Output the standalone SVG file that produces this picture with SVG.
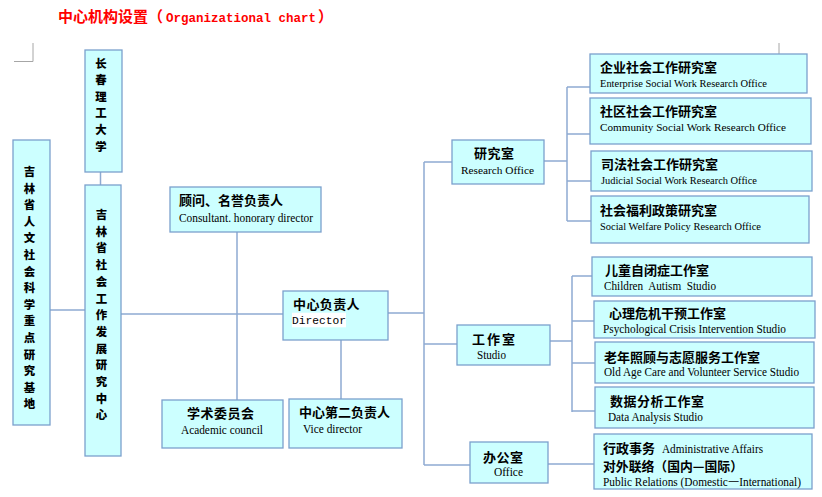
<svg xmlns="http://www.w3.org/2000/svg" width="822" height="497" viewBox="0 0 822 497">
<style>
.box{fill:#CCFFFF;stroke:#7BA0CD;stroke-width:1.3}
.ln{stroke:#8EAAD2;stroke-width:1.5;fill:none}
.mk{stroke:#A6A6A6;stroke-width:1;fill:none}
.zh{font-family:"Noto Sans CJK SC","Noto Sans",sans-serif;font-weight:bold;font-size:13px;fill:#000}
.en{font-family:"Liberation Serif","Times New Roman",serif;font-size:11px;fill:#000}
.en2{font-family:"Liberation Serif","Times New Roman",serif;font-size:12px;fill:#000}
.vt{font-family:"Noto Sans CJK SC","Noto Sans",sans-serif;font-weight:900;font-size:11.4px;fill:#000;text-anchor:middle}
.mono{font-family:"Liberation Mono","Courier New",monospace;font-size:11.2px;fill:#000}
.title{font-family:"Noto Sans CJK SC","Noto Sans",sans-serif;font-weight:bold;font-size:15px;fill:#FF0000}
.tmono{font-family:"Liberation Mono","Courier New",monospace;font-weight:bold;font-size:12.5px;fill:#FF0000}
</style>
<rect width="822" height="497" fill="#FFFFFF"/>
<text class="title" x="58" y="22">中心机构设置（</text>
<text class="tmono" x="166" y="22">Organizational chart</text>
<text class="title" x="318" y="22">）</text>
<polyline class="mk" points="14,61.5 33,61.5 33,43"/>
<line class="mk" x1="779" y1="43" x2="779" y2="54"/>

<g id="connectors">
<line class="ln" x1="100.5" y1="172" x2="100.5" y2="185"/>
<line class="ln" x1="50" y1="310" x2="85" y2="310"/>
<line class="ln" x1="121" y1="314" x2="283" y2="314"/>
<line class="ln" x1="237" y1="232" x2="237" y2="400"/>
<line class="ln" x1="341" y1="340" x2="341" y2="399"/>
<line class="ln" x1="388" y1="313" x2="424" y2="313"/>
<line class="ln" x1="424" y1="162" x2="424" y2="465"/>
<line class="ln" x1="424" y1="162" x2="452" y2="162"/>
<line class="ln" x1="424" y1="344" x2="457" y2="344"/>
<line class="ln" x1="424" y1="465" x2="470" y2="465"/>
<line class="ln" x1="544" y1="161" x2="567" y2="161"/>
<line class="ln" x1="567" y1="87" x2="567" y2="221"/>
<line class="ln" x1="567" y1="87" x2="590" y2="87"/>
<line class="ln" x1="567" y1="134" x2="590" y2="134"/>
<line class="ln" x1="567" y1="181" x2="591" y2="181"/>
<line class="ln" x1="567" y1="221" x2="591" y2="221"/>
<line class="ln" x1="550" y1="341" x2="572" y2="341"/>
<line class="ln" x1="572" y1="276" x2="572" y2="412"/>
<line class="ln" x1="572" y1="276" x2="592" y2="276"/>
<line class="ln" x1="572" y1="321" x2="594" y2="321"/>
<line class="ln" x1="572" y1="363" x2="595" y2="363"/>
<line class="ln" x1="572" y1="411" x2="595" y2="411"/>
<line class="ln" x1="548" y1="464" x2="594" y2="464"/>
</g>

<g id="n-jilin-base">
<rect class="box" x="13" y="140" width="37" height="285"/>
<text class="vt" x="29.5" y="176">吉</text>
<text class="vt" x="29.5" y="192.6">林</text>
<text class="vt" x="29.5" y="209.2">省</text>
<text class="vt" x="29.5" y="225.8">人</text>
<text class="vt" x="29.5" y="242.4">文</text>
<text class="vt" x="29.5" y="259">社</text>
<text class="vt" x="29.5" y="275.6">会</text>
<text class="vt" x="29.5" y="292.2">科</text>
<text class="vt" x="29.5" y="308.8">学</text>
<text class="vt" x="29.5" y="325.4">重</text>
<text class="vt" x="29.5" y="342">点</text>
<text class="vt" x="29.5" y="358.6">研</text>
<text class="vt" x="29.5" y="375.2">究</text>
<text class="vt" x="29.5" y="391.8">基</text>
<text class="vt" x="29.5" y="408.4">地</text>
</g>

<g id="n-cust">
<rect class="box" x="85" y="50" width="37" height="122"/>
<text class="vt" x="101" y="67.5">长</text>
<text class="vt" x="101" y="84.1">春</text>
<text class="vt" x="101" y="100.7">理</text>
<text class="vt" x="101" y="117.3">工</text>
<text class="vt" x="101" y="133.9">大</text>
<text class="vt" x="101" y="150.5">学</text>
</g>

<g id="n-center">
<rect class="box" x="85" y="185" width="36" height="271"/>
<text class="vt" x="101.5" y="219">吉</text>
<text class="vt" x="101.5" y="235.7">林</text>
<text class="vt" x="101.5" y="252.4">省</text>
<text class="vt" x="101.5" y="269.1">社</text>
<text class="vt" x="101.5" y="285.8">会</text>
<text class="vt" x="101.5" y="302.5">工</text>
<text class="vt" x="101.5" y="319.2">作</text>
<text class="vt" x="101.5" y="335.9">发</text>
<text class="vt" x="101.5" y="352.6">展</text>
<text class="vt" x="101.5" y="369.3">研</text>
<text class="vt" x="101.5" y="386">究</text>
<text class="vt" x="101.5" y="402.7">中</text>
<text class="vt" x="101.5" y="419.4">心</text>
</g>

<g id="n-consultant">
<rect class="box" x="170" y="187" width="151" height="45"/>
<text class="zh" x="179" y="205">顾问、名誉负责人</text>
<text class="en2" x="179" y="221.5" textLength="134" lengthAdjust="spacingAndGlyphs">Consultant. honorary director</text>
</g>

<g id="n-academic">
<rect class="box" x="162" y="400" width="121" height="48"/>
<text class="zh" x="187" y="417.5" letter-spacing="0.5">学术委员会</text>
<text class="en2" x="181" y="434" textLength="82" lengthAdjust="spacingAndGlyphs">Academic council</text>
</g>

<g id="n-director">
<rect class="box" x="283" y="291" width="105" height="49"/>
<text class="zh" x="293" y="309" letter-spacing="0.4">中心负责人</text>
<rect x="292" y="312.7" width="54" height="14.6" fill="#FFFFFF"/>
<text class="mono" x="292" y="324" textLength="54" lengthAdjust="spacingAndGlyphs">Director</text>
</g>

<g id="n-vice">
<rect class="box" x="289" y="399" width="113" height="49"/>
<text class="zh" x="299" y="416.5">中心第二负责人</text>
<text class="en2" x="303" y="432.5" textLength="59" lengthAdjust="spacingAndGlyphs">Vice director</text>
</g>

<g id="n-research">
<rect class="box" x="452" y="140" width="92" height="44"/>
<text class="zh" x="474" y="158" letter-spacing="0.5">研究室</text>
<text class="en" x="461" y="174" textLength="73" lengthAdjust="spacingAndGlyphs">Research Office</text>
</g>

<g id="n-r1">
<rect class="box" x="590" y="54" width="217" height="39"/>
<text class="zh" x="600" y="72">企业社会工作研究室</text>
<text class="en" x="600" y="86.5" textLength="167" lengthAdjust="spacingAndGlyphs">Enterprise Social Work Research Office</text>
</g>

<g id="n-r2">
<rect class="box" x="590" y="98" width="221" height="46"/>
<text class="zh" x="600" y="116">社区社会工作研究室</text>
<text class="en" x="600" y="131" textLength="186" lengthAdjust="spacingAndGlyphs">Community Social Work Research Office</text>
</g>

<g id="n-r3">
<rect class="box" x="591" y="151" width="221" height="40"/>
<text class="zh" x="601" y="169">司法社会工作研究室</text>
<text class="en" x="601" y="184" textLength="156" lengthAdjust="spacingAndGlyphs">Judicial Social Work Research Office</text>
</g>

<g id="n-r4">
<rect class="box" x="591" y="196" width="218" height="47"/>
<text class="zh" x="600" y="215">社会福利政策研究室</text>
<text class="en" x="600" y="229.5" textLength="161" lengthAdjust="spacingAndGlyphs">Social Welfare Policy Research Office</text>
</g>

<g id="n-studio">
<rect class="box" x="457" y="325" width="93" height="40"/>
<text class="zh" x="472" y="344" font-size="14px" letter-spacing="2">工作室</text>
<text class="en2" x="477" y="359" textLength="29" lengthAdjust="spacingAndGlyphs">Studio</text>
</g>

<g id="n-s1">
<rect class="box" x="592" y="257" width="220" height="39"/>
<text class="zh" x="605" y="275">儿童自闭症工作室</text>
<text class="en2" x="604" y="289.5" textLength="112" lengthAdjust="spacingAndGlyphs" xml:space="preserve">Children  Autism  Studio</text>
</g>

<g id="n-s2">
<rect class="box" x="594" y="301" width="221" height="37"/>
<text class="zh" x="609" y="318">心理危机干预工作室</text>
<text class="en2" x="603" y="333" textLength="183" lengthAdjust="spacingAndGlyphs">Psychological Crisis Intervention Studio</text>
</g>

<g id="n-s3">
<rect class="box" x="595" y="342" width="219" height="41"/>
<text class="zh" x="604" y="361.5">老年照顾与志愿服务工作室</text>
<text class="en2" x="604" y="376" textLength="195" lengthAdjust="spacingAndGlyphs">Old Age Care and Volunteer Service Studio</text>
</g>

<g id="n-s4">
<rect class="box" x="595" y="387" width="219" height="41"/>
<text class="zh" x="610" y="406" letter-spacing="0.5">数据分析工作室</text>
<text class="en2" x="608" y="420.5" textLength="95" lengthAdjust="spacingAndGlyphs">Data Analysis Studio</text>
</g>

<g id="n-office">
<rect class="box" x="470" y="442" width="78" height="41"/>
<text class="zh" x="483" y="461.5" letter-spacing="0.5">办公室</text>
<text class="en2" x="494" y="476" textLength="29" lengthAdjust="spacingAndGlyphs">Office</text>
</g>

<g id="n-admin">
<rect class="box" x="594" y="434" width="218" height="55"/>
<text class="zh" x="603" y="452.5">行政事务</text>
<text class="en2" x="662" y="452.5" textLength="101" lengthAdjust="spacingAndGlyphs">Administrative Affairs</text>
<text class="zh" x="603" y="471" textLength="140" lengthAdjust="spacingAndGlyphs">对外联络（国内—国际）</text>
<text class="en2" x="603" y="485.5" textLength="198" lengthAdjust="spacingAndGlyphs">Public Relations (Domestic一International)</text>
</g>
</svg>
